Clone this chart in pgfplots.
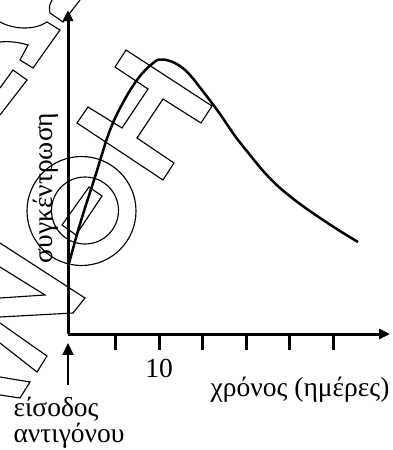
\documentclass[border=0pt]{standalone}
\usepackage{pgfplots}
\pgfplotsset{compat=1.18}
\usetikzlibrary{arrows.meta}
\usepackage{fontspec}
\setmainfont{Liberation Serif}

\begin{document}
\begin{tikzpicture}[font=\fontsize{11}{12}\selectfont]
\useasboundingbox (0,0) rectangle (157.2pt,-180pt);

% watermark outlines (pixel units, y downwards)
\begin{scope}[x=0.4pt, y=-0.4pt, line width=0.45pt, black]
  \draw (81.5,211) circle[radius=54.5];
  \draw (85,210.5) circle[radius=33.5];
  \draw (89,187) -- (102,196) -- (76,235) -- (62,225) -- cycle;
  \draw (126,50) -- (212,106) -- (201,123) -- (163,99) -- (137,138) -- (174,163)
        -- (163,180) -- (77,123) -- (88,107) -- (122,128) -- (148,89) -- (115,67) -- cycle;
  \draw (0,243) -- (85,298) -- (73,313) -- (0,317);
  \draw (0,267) -- (45,295) -- (0,298);
  \draw (0,323) -- (47,356) -- (37,372) -- (0,343);
  \draw (0,377) -- (30,382) -- (20,398) -- (0,395);
  \draw (0,22) .. controls (15,30) and (35,30) .. (47,22) -- (60,30) -- (33,68) -- (20,60) -- (28,45)
        .. controls (18,42) and (8,41) .. (0,42);
  \draw (52,0) .. controls (49,5) and (49,9) .. (50,13) -- (63,22) -- (80,0);
  \draw (0,88) -- (13,70) -- (27,80) -- (0,115);
\end{scope}

\begin{axis}[
    at={(27.2pt,-133.6pt)}, anchor=south west,
    scale only axis, width=128.8pt, height=129.6pt,
    xmin=-0.46, xmax=36.55, ymin=0, ymax=324,
    axis lines=left,
    axis line style={line width=1.2pt, -{Triangle[width=4pt,length=4.4pt]}},
    xtick={5,10,...,30}, xticklabels={,10,,,,},
    ytick=\empty,
    xtick align=outside, major tick length=6.4pt,
    every tick/.style={black, line width=1.2pt},
    clip=false,
  ]
  \addplot[black, line width=1pt, smooth, tension=0.6, no markers] coordinates {
    (-0.46,67) (0.92,110) (2.64,157) (4.37,204) (6.09,235) (7.82,258)
    (9.54,272.5) (10.34,274.5) (11.26,273) (12.41,268) (13.56,259)
    (15.29,240) (17.01,220) (18.74,198) (20.46,179) (22.18,161)
    (23.91,146) (26.21,130) (28.51,116) (30.80,103) (32.87,92)
  };
\end{axis}

% annotations (pixel units, y downwards)
\begin{scope}[x=0.4pt, y=-0.4pt]
  \node[anchor=base east, inner sep=0] at (390,397) {χρόνος (ημέρες)};
  \node[rotate=90, anchor=base, inner sep=0] at (53,188) {συγκέντρωση};
  \node[anchor=base west, inner sep=0, align=left,
        font=\fontsize{11}{7.6}\selectfont] at (13,443) {είσοδος\\αντιγόνου};
  \draw[line width=0.8pt, -{Triangle[width=4.4pt,length=4.8pt]}] (68,385) -- (68,343);
\end{scope}
\end{tikzpicture}
\end{document}
